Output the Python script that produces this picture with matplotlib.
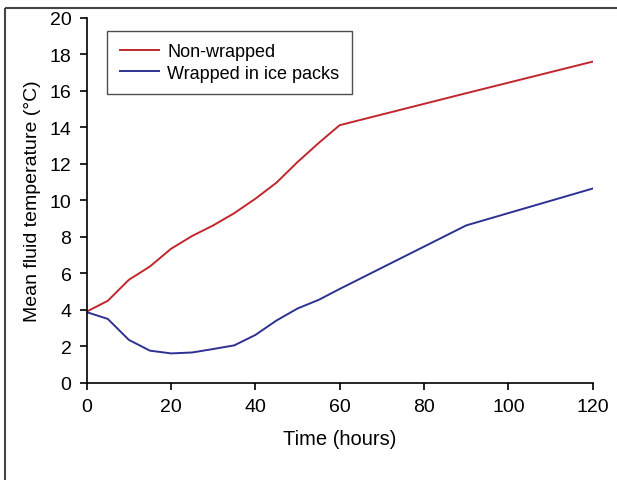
import numpy as np
from matplotlib import pyplot as plt
from matplotlib.lines import Line2D

plt.rcParams["font.family"] = ["Liberation Sans", "DejaVu Sans"]

# hours
time_nonwrapped = [0, 5, 10, 15, 20, 25, 30, 35, 40, 45, 50, 55, 60, 90, 120]
temp_nonwrapped = [3.91, 4.5, 5.65, 6.38, 7.35, 8.05, 8.63, 9.3, 10.09, 10.97,
                   12.1, 13.14, 14.12, 15.87, 17.6]

time_wrapped = [0, 5, 10, 15, 20, 25, 30, 35, 40, 45, 50, 55, 60, 90, 120]
temp_wrapped = [3.88, 3.51, 2.36, 1.77, 1.62, 1.67, 1.86, 2.06, 2.63, 3.42,
                4.08, 4.55, 5.15, 8.63, 10.65]

labels = ["Non-wrapped", "Wrapped in ice packs"]
x_ticks = [0, 20, 40, 60, 80, 100, 120]
y_ticks = [0, 2, 4, 6, 8, 10, 12, 14, 16, 18, 20]

fig = plt.figure(figsize=(6.17, 4.81), dpi=100)
ax = fig.add_axes([0.1405, 0.2017, 0.8201, 0.7592])

ax.plot(time_nonwrapped, temp_nonwrapped, color="#c0272d", lw=1.4, label=labels[0])
ax.plot(time_wrapped, temp_wrapped, color="#2e3192", lw=1.4, label=labels[1])

ax.set_xlim(0, 120)
ax.set_ylim(0, 20)
ax.set_xticks(x_ticks)
ax.set_yticks(y_ticks)
ax.tick_params(direction="out", length=5, width=1.2, labelsize=14, pad=6)
for side in ["top", "right"]:
    ax.spines[side].set_visible(False)
for side in ["left", "bottom"]:
    ax.spines[side].set_linewidth(1.2)

ax.set_xlabel("Time (hours)", fontsize=14.5, labelpad=10)
ax.set_ylabel("Mean fluid temperature (\u00b0C)", fontsize=14, labelpad=6)

leg = ax.legend(loc="upper left", bbox_to_anchor=(0.04, 0.965), fontsize=13,
                frameon=True, fancybox=False, edgecolor="#222222",
                handlelength=2.2, handletextpad=0.45, borderpad=0.7,
                labelspacing=0.25, borderaxespad=0)
leg.get_frame().set_linewidth(1.0)

# outer image frame: top and left edges only
fig.add_artist(Line2D([5 / 617, 1.01], [1 - 9 / 481, 1 - 9 / 481],
                      transform=fig.transFigure, color="#444444", lw=1.5,
                      solid_capstyle="butt"))
fig.add_artist(Line2D([5 / 617, 5 / 617], [-0.01, 1 - 9 / 481],
                      transform=fig.transFigure, color="#444444", lw=1.5,
                      solid_capstyle="butt"))

fig.savefig("out.png", dpi=100)
